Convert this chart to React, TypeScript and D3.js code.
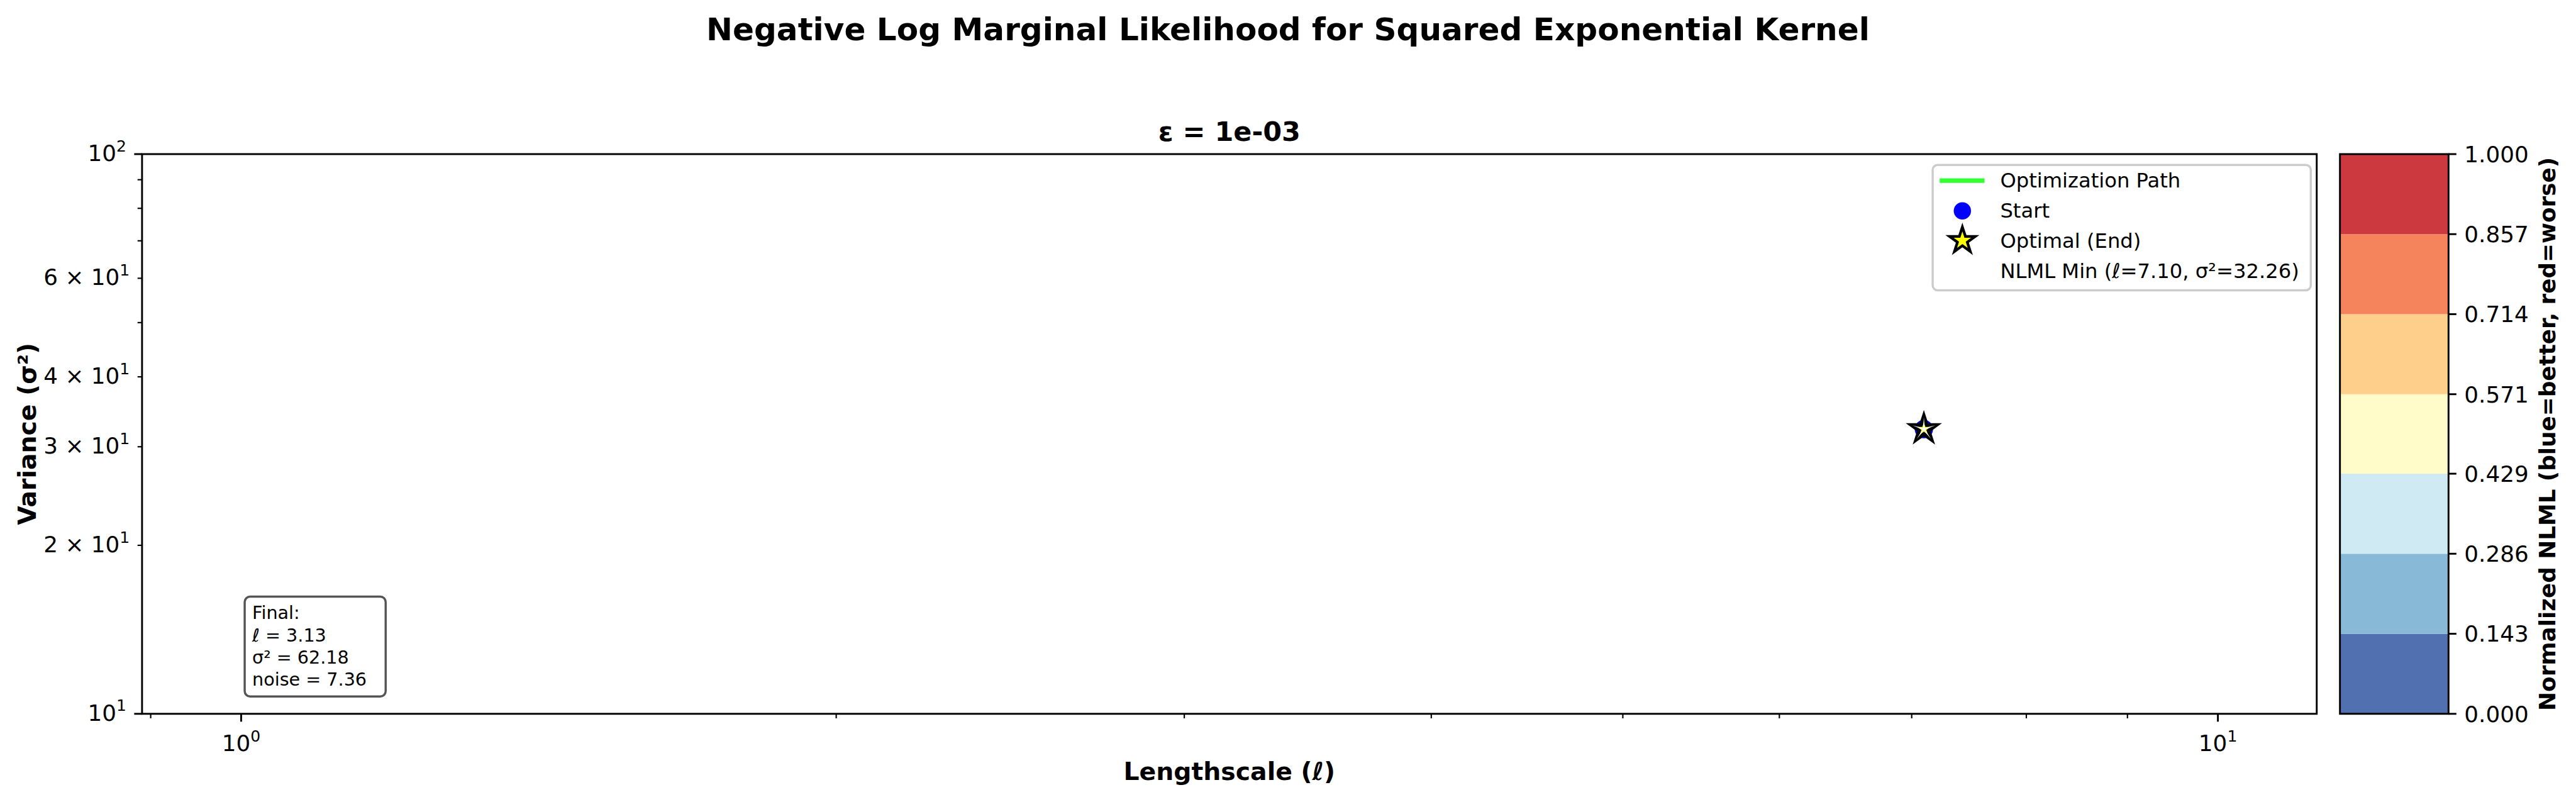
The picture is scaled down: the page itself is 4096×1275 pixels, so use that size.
import React from 'react';
import * as d3 from 'd3';

// chart values
const xLimits = [0.891, 11.22];
const yLimits = [10, 100];
const xMajorTicks = [1, 10];
const xMinorTicks = [0.9, 2, 3, 4, 5, 6, 7, 8, 9];
const yMajorTicks = [10, 100];
const yMinorTicks = [20, 30, 40, 50, 60, 70, 80, 90];
const yMinorLabelled = [20, 30, 40, 60];

const pathLengthscale = [7.1, 7.1];
const pathVariance = [32.26, 32.26];
const nlmlMin = { l: 7.1, v: 32.26 };
const finalValues = { l: 3.13, v: 62.18, noise: 7.36 };

const cbarLevels = [0, 0.143, 0.286, 0.429, 0.571, 0.714, 0.857, 1.0];
const cbarColors = ['#5170b0', '#88b9d7', '#cfeaf2', '#fffcc9', '#fdcf8b', '#f5845c', '#cc3a40'];

const W = 4769;
const H = 1484;
const FONT = 'DejaVu Sans, sans-serif';
const pt = (p: number) => (p * 300) / 72;

const ax = { left: 263, right: 4289, top: 285, bottom: 1321 };
const cb = { left: 4332, right: 4533 };

const Sup = ({ base, exp }: { base: string; exp: string | number }) => (
    <>
        <tspan>{base}</tspan>
        <tspan dy={-pt(10) * 0.42} fontSize={pt(10) * 0.7}>{exp}</tspan>
    </>
);

// 5 pointed star, outer radius r, inner radius r*k
const star = (r: number, k = 0.382) => {
    const pts: [number, number][] = d3.range(10).map(i => [(i * Math.PI) / 5, i % 2 ? r * k : r]);
    return d3.lineRadial().curve(d3.curveLinearClosed)(pts)!;
};

export default function App() {
    const x = d3.scaleLog().domain(xLimits).range([ax.left, ax.right]);
    const y = d3.scaleLog().domain(yLimits).range([ax.bottom, ax.top]);
    const c = d3.scaleLinear().domain([0, 1]).range([ax.bottom, ax.top]);

    const pathPts: [number, number][] = pathLengthscale.map((l, i) => [x(l), y(pathVariance[i])]);
    const line = d3.line();
    const start = pathPts[0];
    const end = pathPts[pathPts.length - 1];

    const tickFs = pt(10);
    const majorLen = pt(3.5);
    const minorLen = pt(2);
    const pad = pt(3.5);

    const legendX = 3578;
    const legendRows = [334, 390, 445, 501];

    return (
        <svg width={4096} height={1275} viewBox={`0 0 ${W} ${H}`}
            style={{ position: 'absolute', left: 0, top: 0, background: '#fff' }}
            fontFamily={FONT}>
            <rect x={0} y={0} width={W} height={H} fill="#fff" />

            {/* titles */}
            <text x={W / 2} y={74} textAnchor="middle" fontSize={pt(14)} fontWeight="bold">
                Negative Log Marginal Likelihood for Squared Exponential Kernel
            </text>
            <text x={(ax.left + ax.right) / 2} y={ax.top - pt(6)} textAnchor="middle" fontSize={pt(12)} fontWeight="bold">
                ε = 1e-03
            </text>

            {/* optimization path + markers */}
            <path d={line(pathPts)!} fill="none" stroke="#33ff33" strokeWidth={pt(2)} />
            <circle cx={start[0]} cy={start[1]} r={17} fill="#0000ff" />
            <path d={star(24)} transform={`translate(${end[0]},${end[1]})`} fill="#ffff00" stroke="#000" strokeWidth={7} strokeLinejoin="miter" />
            <path d={star(22, 0.12)} transform={`translate(${x(nlmlMin.l)},${y(nlmlMin.v)})`} fill="#fff" />

            {/* final text box */}
            <rect x={453} y={1104} width={261} height={185} rx={10} fill="#fff" fillOpacity={0.8} stroke="#555" strokeWidth={4} />
            <g fontSize={pt(8)}>
                <text x={467} y={1145}>Final:</text>
                <text x={467} y={1187}><tspan fontStyle="italic">ℓ</tspan> = {finalValues.l.toFixed(2)}</text>
                <text x={467} y={1228}>σ² = {finalValues.v.toFixed(2)}</text>
                <text x={467} y={1269}>noise = {finalValues.noise.toFixed(2)}</text>
            </g>

            {/* axes frame */}
            <rect x={ax.left} y={ax.top} width={ax.right - ax.left} height={ax.bottom - ax.top} fill="none" stroke="#000" strokeWidth={3.4} />

            {/* x ticks */}
            {xMinorTicks.map(t => (
                <line key={'xm' + t} x1={x(t)} x2={x(t)} y1={ax.bottom} y2={ax.bottom + minorLen} stroke="#000" strokeWidth={2.5} />
            ))}
            {xMajorTicks.map(t => (
                <g key={'xM' + t}>
                    <line x1={x(t)} x2={x(t)} y1={ax.bottom} y2={ax.bottom + majorLen} stroke="#000" strokeWidth={3.4} />
                    <text x={x(t)} y={ax.bottom + majorLen + pad + tickFs * 0.95} textAnchor="middle" fontSize={tickFs}>
                        <Sup base="10" exp={Math.round(Math.log10(t))} />
                    </text>
                </g>
            ))}

            {/* y ticks */}
            {yMinorTicks.map(t => (
                <g key={'ym' + t}>
                    <line x1={ax.left - minorLen} x2={ax.left} y1={y(t)} y2={y(t)} stroke="#000" strokeWidth={2.5} />
                    {yMinorLabelled.includes(t) && (
                        <text x={ax.left - minorLen - pad} y={y(t) + tickFs * 0.3} textAnchor="end" fontSize={tickFs}>
                            <Sup base={`${t / 10} × 10`} exp={1} />
                        </text>
                    )}
                </g>
            ))}
            {yMajorTicks.map(t => (
                <g key={'yM' + t}>
                    <line x1={ax.left - majorLen} x2={ax.left} y1={y(t)} y2={y(t)} stroke="#000" strokeWidth={3.4} />
                    <text x={ax.left - majorLen - pad} y={y(t) + tickFs * 0.3} textAnchor="end" fontSize={tickFs}>
                        <Sup base="10" exp={Math.round(Math.log10(t))} />
                    </text>
                </g>
            ))}

            {/* axis labels */}
            <text x={(ax.left + ax.right) / 2} y={1443} textAnchor="middle" fontSize={pt(11)} fontWeight="bold">
                Lengthscale (<tspan fontStyle="italic">ℓ</tspan>)
            </text>
            <text transform={`translate(66,${(ax.top + ax.bottom) / 2}) rotate(-90)`} textAnchor="middle" fontSize={pt(11)} fontWeight="bold">
                Variance (σ²)
            </text>

            {/* legend */}
            <rect x={legendX} y={305} width={700} height={232} rx={9} fill="#fff" fillOpacity={0.8} stroke="#cccccc" strokeWidth={4} />
            <line x1={3591} x2={3674} y1={legendRows[0]} y2={legendRows[0]} stroke="#33ff33" strokeWidth={pt(2)} />
            <circle cx={3633} cy={legendRows[1]} r={16} fill="#0000ff" />
            <path d={star(25)} transform={`translate(3633,${legendRows[2]})`} fill="#ffff00" stroke="#000" strokeWidth={5} />
            <g fontSize={pt(9)}>
                <text x={3703} y={legendRows[0] + 13}>Optimization Path</text>
                <text x={3703} y={legendRows[1] + 13}>Start</text>
                <text x={3703} y={legendRows[2] + 13}>Optimal (End)</text>
                <text x={3703} y={legendRows[3] + 13}>
                    NLML Min (<tspan fontStyle="italic">ℓ</tspan>={nlmlMin.l.toFixed(2)}, σ²={nlmlMin.v.toFixed(2)})
                </text>
            </g>

            {/* colorbar */}
            {cbarColors.map((col, i) => (
                <rect key={'cb' + i} x={cb.left} width={cb.right - cb.left}
                    y={c(cbarLevels[i + 1])} height={c(cbarLevels[i]) - c(cbarLevels[i + 1])} fill={col} />
            ))}
            <rect x={cb.left} y={ax.top} width={cb.right - cb.left} height={ax.bottom - ax.top} fill="none" stroke="#000" strokeWidth={3.4} />
            {cbarLevels.map(t => (
                <g key={'ct' + t}>
                    <line x1={cb.right} x2={cb.right + majorLen} y1={c(t)} y2={c(t)} stroke="#000" strokeWidth={3.4} />
                    <text x={cb.right + majorLen + pad} y={c(t) + tickFs * 0.36} fontSize={tickFs}>
                        {d3.format('.3f')(t)}
                    </text>
                </g>
            ))}
            <text transform={`translate(4730,${(ax.top + ax.bottom) / 2}) rotate(-90)`} textAnchor="middle" fontSize={pt(10)} fontWeight="bold">
                Normalized NLML (blue=better, red=worse)
            </text>
        </svg>
    );
}
